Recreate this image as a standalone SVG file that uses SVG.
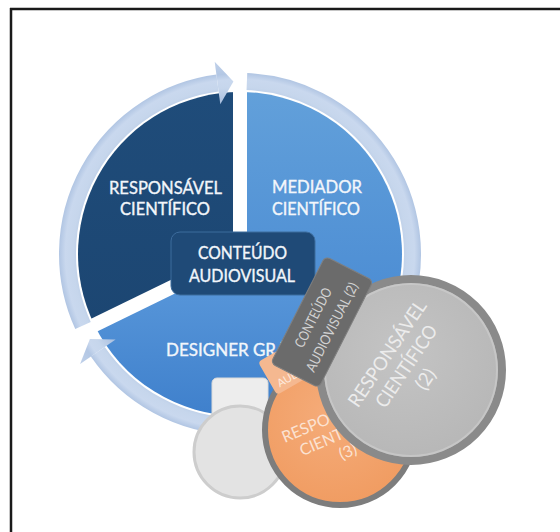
<svg xmlns="http://www.w3.org/2000/svg" width="560" height="532" viewBox="0 0 560 532">
  <defs>
    <radialGradient id="ringGrad" gradientUnits="userSpaceOnUse" cx="240" cy="254" r="194">
      <stop offset="0.78" stop-color="#a9bfdf"/>
      <stop offset="0.86" stop-color="#c6d6ec"/>
      <stop offset="0.9" stop-color="#c9d8ee"/>
      <stop offset="0.93" stop-color="#b3c7e4"/>
      <stop offset="1" stop-color="#c0d1ea"/>
    </radialGradient>
    <linearGradient id="rightGrad" x1="0" y1="0" x2="0" y2="1">
      <stop offset="0" stop-color="#62a0da"/>
      <stop offset="1" stop-color="#4a8bd3"/>
    </linearGradient>
    <linearGradient id="bottomGrad" x1="0" y1="0" x2="0" y2="1">
      <stop offset="0" stop-color="#5d9bdc"/>
      <stop offset="1" stop-color="#3f80cc"/>
    </linearGradient>
    <linearGradient id="darkGrad" x1="0" y1="0" x2="0" y2="1">
      <stop offset="0" stop-color="#1f4c7a"/>
      <stop offset="1" stop-color="#1c4672"/>
    </linearGradient>
    <radialGradient id="orangeGrad" cx="0.45" cy="0.4" r="0.65">
      <stop offset="0" stop-color="#f5ac7a"/>
      <stop offset="1" stop-color="#f09b60"/>
    </radialGradient>
    <radialGradient id="grayGrad" cx="0.45" cy="0.4" r="0.65">
      <stop offset="0" stop-color="#c4c4c4"/>
      <stop offset="1" stop-color="#b6b6b6"/>
    </radialGradient>
  </defs>
  <style>
    .lbl { font-family: Lato, "Open Sans", "Liberation Sans", sans-serif; font-size: 17px; fill: #f2f6fb; stroke: #f2f6fb; stroke-width: 0.35; text-anchor: middle; }
    .ring { fill: none; stroke: url(#ringGrad); stroke-width: 17; }
    .head { fill: url(#ringGrad); }
    .gap { stroke: #ffffff; stroke-width: 14; stroke-linecap: butt; }
    .ghost { font-family: Lato, "Open Sans", "Liberation Sans", sans-serif; text-anchor: middle; }
  </style>

  <!-- frame edges -->
  <g id="frame" stroke="#1a1a1a" stroke-width="2.5">
    <line x1="10" y1="9" x2="560" y2="9"/>
    <line x1="11" y1="8" x2="11" y2="532"/>
  </g>

  <!-- pie segments -->
  <g id="node-responsavel">
    <path d="M240,254 L94.4,325 A162,162 0 0 1 240,92 Z" fill="url(#darkGrad)"/>
  </g>
  <g id="node-mediador">
    <path d="M240,254 L240,92 A162,162 0 0 1 385.6,325 Z" fill="url(#rightGrad)"/>
  </g>
  <g id="node-designer">
    <path d="M240,254 L385.6,325 A162,162 0 0 1 94.4,325 Z" fill="url(#bottomGrad)"/>
  </g>
  <g id="gaps">
    <line class="gap" x1="240" y1="254" x2="240" y2="86"/>
    <line class="gap" x1="240" y1="254" x2="89" y2="327.6"/>
    <line class="gap" x1="240" y1="254" x2="391" y2="327.6"/>
  </g>

  <!-- cycle arrows around the ring -->
  <g id="connectors">
    <path class="ring" d="M83,325.5 A172.5,172.5 0 0 1 217.5,83"/>
    <polygon class="head" points="220.3,104.3 214.7,61.7 233.4,81.6"/>
    <path class="ring" d="M246.9,81.6 A172.5,172.5 0 0 1 404.5,305.9"/>
    <polygon class="head" points="384,299.4 425,312.3 399.4,320"/>
    <path class="ring" d="M388.6,341.5 A172.5,172.5 0 0 1 97.8,351.7"/>
    <polygon class="head" points="115.6,339.5 80.1,363.9 89.9,338.9"/>
  </g>

  <g id="node-conteudo">
    <rect x="171" y="232" width="144" height="63" rx="9" fill="#1f4a77" stroke="#3d6c9d" stroke-width="1"/>
    <text class="lbl" x="242.5" y="259" textLength="89" lengthAdjust="spacingAndGlyphs">CONTEÚDO</text>
    <text class="lbl" x="242" y="282" textLength="106" lengthAdjust="spacingAndGlyphs">AUDIOVISUAL</text>
  </g>

  <g id="labels">
    <text class="lbl" x="165.5" y="194" textLength="113" lengthAdjust="spacingAndGlyphs">RESPONSÁVEL</text>
    <text class="lbl" x="165" y="215" textLength="90" lengthAdjust="spacingAndGlyphs">CIENTÍFICO</text>
    <text class="lbl" x="317" y="193" textLength="90" lengthAdjust="spacingAndGlyphs">MEDIADOR</text>
    <text class="lbl" x="316" y="215" textLength="88" lengthAdjust="spacingAndGlyphs">CIENTÍFICO</text>
    <text class="lbl" x="166" y="356" style="text-anchor:start">DESIGNER GRÁFICO</text>
  </g>

  <!-- detached copies of the shapes, stacked at the lower right -->
  <g id="node-copy-pale">
    <rect x="212" y="378" width="56" height="42" rx="5" fill="#ededed" stroke="#dadada" stroke-width="1"/>
    <circle cx="240" cy="452" r="46" fill="#e3e3e3" stroke="#cdcdcd" stroke-width="3"/>
  </g>

  <g id="node-copy-orange">
    <circle cx="340" cy="430" r="75" fill="url(#orangeGrad)" stroke="#7d7d7d" stroke-width="6"/>
    <g transform="translate(343,440) rotate(-23)" fill="#fbe2d2">
      <text class="ghost" x="0" y="-20" font-size="16">RESPONSÁVEL</text>
      <text class="ghost" x="0" y="-1" font-size="16">CIENTÍFICO</text>
      <text class="ghost" x="0" y="18" font-size="16">(3)</text>
    </g>
  </g>

  <g id="node-copy-orange-tab" transform="translate(258,362) rotate(-30)">
    <rect x="0" y="0" width="110" height="38" rx="4" fill="#f5b890"/>
    <text class="ghost" x="6" y="33" font-size="11" fill="#fde9dc" style="text-anchor:start">AUDIOVISUAL (3)</text>
  </g>

  <g id="node-copy-gray">
    <circle cx="411" cy="370" r="91" fill="url(#grayGrad)" stroke="#8a8a8a" stroke-width="8"/>
    <circle cx="411" cy="370" r="86" fill="none" stroke="#cccccc" stroke-width="2" opacity="0.7"/>
    <g transform="translate(406,366) rotate(-56)" fill="#ececec">
      <text class="ghost" x="0" y="-16" font-size="19" textLength="124" lengthAdjust="spacingAndGlyphs">RESPONSÁVEL</text>
      <text class="ghost" x="0" y="7" font-size="19" textLength="95" lengthAdjust="spacingAndGlyphs">CIENTÍFICO</text>
      <text class="ghost" x="0" y="30" font-size="19">(2)</text>
    </g>
  </g>

  <g id="node-copy-gray-tab" transform="translate(322,322) rotate(-63)">
    <rect x="-60" y="-27" width="120" height="54" rx="5" fill="#6b6b6b" stroke="#7f7f7f" stroke-width="1"/>
    <text class="ghost" x="0" y="-5" font-size="14" fill="#d2d2d2" textLength="65" lengthAdjust="spacingAndGlyphs">CONTEÚDO</text>
    <text class="ghost" x="0" y="16" font-size="14" fill="#d2d2d2" textLength="98" lengthAdjust="spacingAndGlyphs">AUDIOVISUAL (2)</text>
  </g>
</svg>
